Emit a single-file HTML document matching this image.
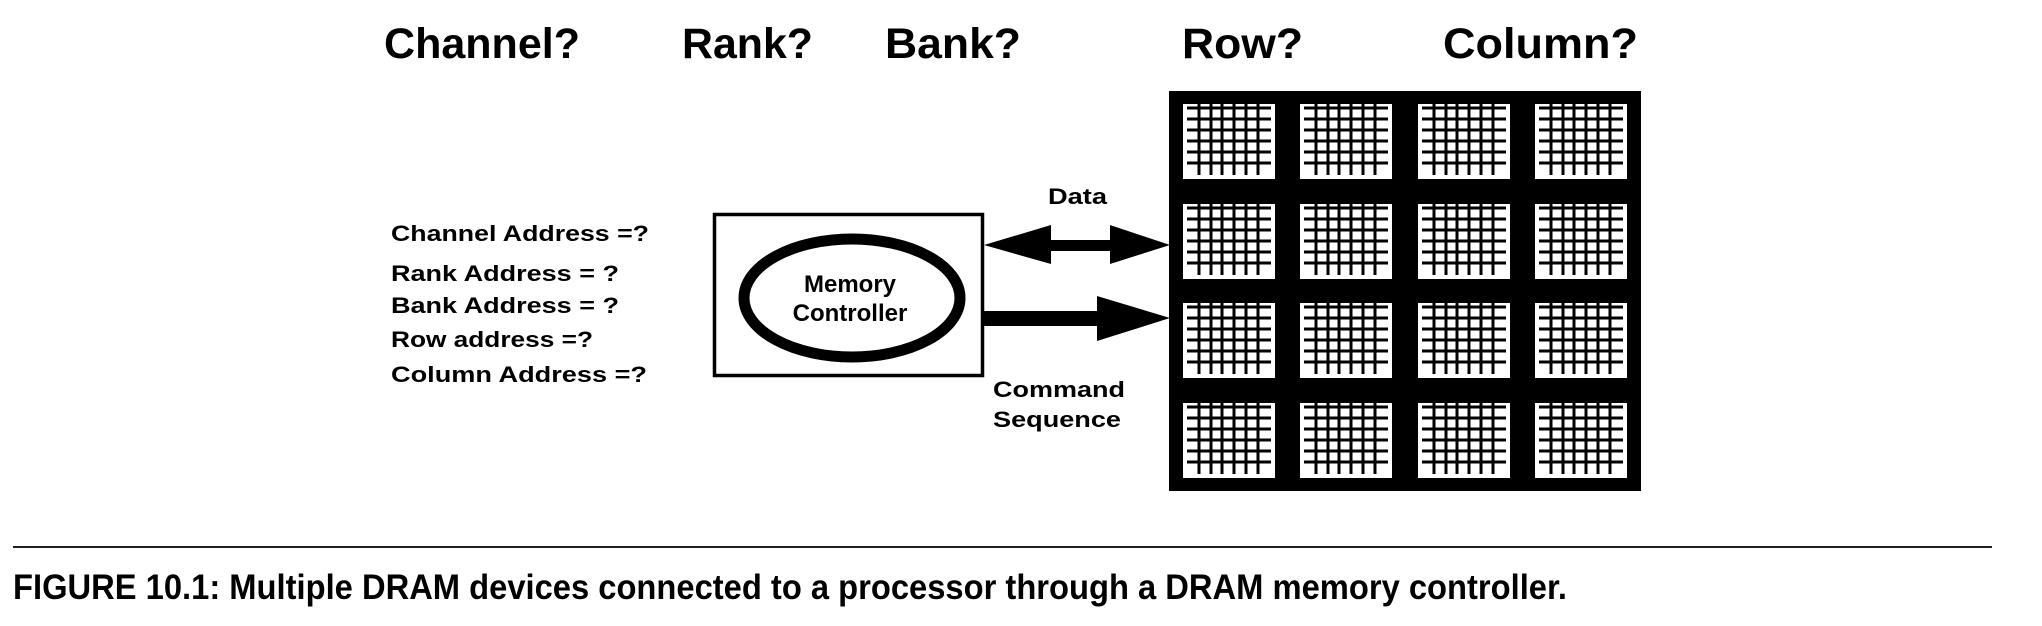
<!DOCTYPE html>
<html><head><meta charset="utf-8"><style>html,body{margin:0;padding:0;background:#fff}svg{display:block}</style></head>
<body>
<svg width="2042" height="626" viewBox="0 0 2042 626" xmlns="http://www.w3.org/2000/svg">
<defs>
<g id="cell">
<rect x="0" y="0" width="92" height="75" fill="#fff"/>
<g stroke="#000" stroke-width="3">
<line x1="4" y1="4" x2="88" y2="4"/><line x1="4" y1="15" x2="88" y2="15"/><line x1="4" y1="26" x2="88" y2="26"/>
<line x1="4" y1="37" x2="88" y2="37"/><line x1="4" y1="48" x2="88" y2="48"/><line x1="4" y1="59" x2="88" y2="59"/>
<line x1="16" y1="0" x2="16" y2="71"/><line x1="28" y1="0" x2="28" y2="71"/><line x1="39" y1="0" x2="39" y2="71"/>
<line x1="51" y1="0" x2="51" y2="71"/><line x1="63" y1="0" x2="63" y2="71"/><line x1="75" y1="0" x2="75" y2="71"/>
</g>
</g>
</defs>
<g font-family="Liberation Sans, Arial, sans-serif" font-weight="bold" fill="#000">
<text x="384" y="58" font-size="43" textLength="196" lengthAdjust="spacingAndGlyphs">Channel?</text>
<text x="682" y="58" font-size="43" textLength="131" lengthAdjust="spacingAndGlyphs">Rank?</text>
<text x="885" y="58" font-size="43" textLength="136" lengthAdjust="spacingAndGlyphs">Bank?</text>
<text x="1182" y="58" font-size="43" textLength="121" lengthAdjust="spacingAndGlyphs">Row?</text>
<text x="1443" y="58" font-size="43" textLength="195" lengthAdjust="spacingAndGlyphs">Column?</text>

<text x="391" y="241" font-size="22" textLength="258" lengthAdjust="spacingAndGlyphs">Channel Address =?</text>
<text x="391" y="281" font-size="22" textLength="228" lengthAdjust="spacingAndGlyphs">Rank Address = ?</text>
<text x="391" y="313" font-size="22" textLength="228" lengthAdjust="spacingAndGlyphs">Bank Address = ?</text>
<text x="391" y="347" font-size="22" textLength="202" lengthAdjust="spacingAndGlyphs">Row address =?</text>
<text x="391" y="382" font-size="22" textLength="256" lengthAdjust="spacingAndGlyphs">Column Address =?</text>

<text x="850" y="292" font-size="24" text-anchor="middle">Memory</text>
<text x="850" y="321" font-size="24" text-anchor="middle">Controller</text>
<text x="1048" y="204" font-size="22" textLength="59" lengthAdjust="spacingAndGlyphs">Data</text>
<text x="993" y="397" font-size="22" textLength="132" lengthAdjust="spacingAndGlyphs">Command</text>
<text x="993" y="427" font-size="22" textLength="128" lengthAdjust="spacingAndGlyphs">Sequence</text>

<text x="13" y="599" font-size="35" textLength="1554" lengthAdjust="spacingAndGlyphs">FIGURE 10.1:  Multiple DRAM devices connected to a processor through a DRAM memory controller.</text>
</g>

<rect x="714.5" y="214.5" width="268" height="161" fill="none" stroke="#000" stroke-width="3.5"/>
<ellipse cx="852" cy="298" rx="108" ry="59" fill="none" stroke="#000" stroke-width="11"/>

<polygon points="984,245 1051,225 1051,240 1110,240 1110,225 1170,245 1110,264 1110,251 1051,251 1051,264" fill="#000"/>
<polygon points="984,311 1097,311 1097,296 1170,318 1097,341 1097,326 984,326" fill="#000"/>

<rect x="1169" y="91" width="472" height="400" fill="#000"/>
<use href="#cell" x="1183" y="104"/><use href="#cell" x="1300" y="104"/><use href="#cell" x="1418" y="104"/><use href="#cell" x="1535" y="104"/>
<use href="#cell" x="1183" y="204"/><use href="#cell" x="1300" y="204"/><use href="#cell" x="1418" y="204"/><use href="#cell" x="1535" y="204"/>
<use href="#cell" x="1183" y="303"/><use href="#cell" x="1300" y="303"/><use href="#cell" x="1418" y="303"/><use href="#cell" x="1535" y="303"/>
<use href="#cell" x="1183" y="403"/><use href="#cell" x="1300" y="403"/><use href="#cell" x="1418" y="403"/><use href="#cell" x="1535" y="403"/>

<line x1="13" y1="547" x2="1992" y2="547" stroke="#000" stroke-width="1.8"/>
</svg>
</body></html>
